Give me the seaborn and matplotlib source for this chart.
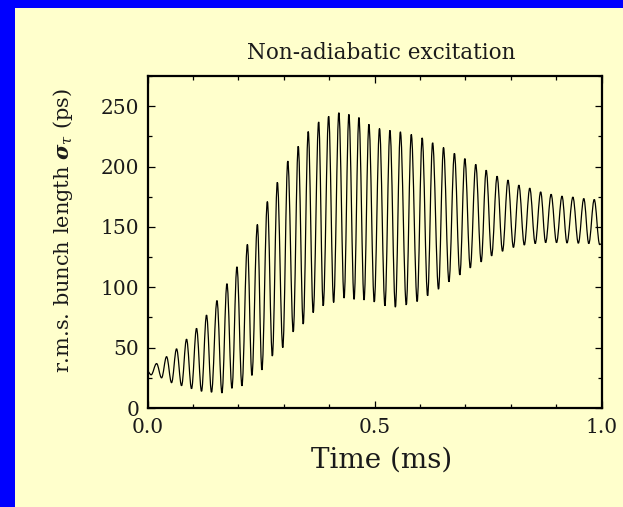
import matplotlib
matplotlib.use("Agg")
import matplotlib.pyplot as plt
import pandas as pd
import seaborn as sns
from matplotlib.patches import Rectangle, PathPatch
from matplotlib.path import Path
from matplotlib.ticker import MultipleLocator

# Bunch-length oscillation after a non-adiabatic RF change:
# turning points (time in ms, r.m.s. bunch length in ps)
start_time, start_length = 0.0, 30.5
end_time, end_length = 1.0, 136.0

peak_times = [0.020, 0.042, 0.064, 0.086, 0.108, 0.130, 0.153, 0.175, 0.197, 0.220,
              0.242, 0.264, 0.286, 0.309, 0.332, 0.354, 0.377, 0.399, 0.4215, 0.4436,
              0.4657, 0.4877, 0.511, 0.534, 0.557, 0.581, 0.605, 0.628, 0.652, 0.676,
              0.699, 0.723, 0.746, 0.770, 0.794, 0.818, 0.842, 0.866, 0.889, 0.913,
              0.937, 0.961, 0.984]
peak_lengths = [36.8, 42.5, 49.0, 57.0, 66.0, 77.0, 89.0, 103.0, 117.0, 135.5,
                152.0, 171.0, 187.0, 204.6, 216.8, 229.0, 237.0, 241.7, 244.6, 243.2,
                240.6, 235.0, 231.5, 230.0, 228.8, 226.6, 223.8, 219.7, 215.8, 211.0,
                206.6, 201.8, 197.0, 192.0, 188.8, 184.6, 182.1, 179.0, 177.0, 175.5,
                174.7, 173.5, 172.7]

trough_times = [0.008, 0.031, 0.053, 0.075, 0.097, 0.119, 0.141, 0.164, 0.186, 0.208,
                0.230, 0.252, 0.275, 0.298, 0.321, 0.343, 0.365, 0.387, 0.410, 0.433,
                0.455, 0.477, 0.4995, 0.523, 0.546, 0.570, 0.594, 0.617, 0.641, 0.664,
                0.688, 0.711, 0.735, 0.758, 0.782, 0.806, 0.830, 0.854, 0.877, 0.901,
                0.924, 0.949, 0.972, 0.996]
trough_lengths = [27.5, 25.0, 21.0, 18.5, 16.0, 13.8, 13.0, 12.4, 16.3, 18.3,
                  27.0, 31.5, 43.0, 50.0, 63.0, 69.5, 79.0, 84.6, 87.4, 91.0,
                  90.0, 89.4, 87.8, 84.6, 83.5, 85.4, 88.2, 92.9, 98.4, 104.5,
                  110.2, 116.0, 121.0, 126.0, 129.8, 133.0, 135.0, 136.2, 137.0, 137.0,
                  136.7, 136.5, 136.2, 135.4]

x_ticks = [0.0, 0.5, 1.0]
x_tick_labels = ["0.0", "0.5", "1.0"]
y_ticks = [0, 50, 100, 150, 200, 250]

BLUE = "#0000ff"
CREAM = "#ffffcc"
INK = "#1a1a1a"

sns.set_theme(style="ticks")
plt.rcParams["font.family"] = ["DejaVu Serif"]
plt.rcParams["mathtext.fontset"] = "dejavuserif"

df = pd.DataFrame({
    "time": [start_time] + peak_times + trough_times + [end_time],
    "length": [start_length] + peak_lengths + trough_lengths + [end_length],
}).sort_values("time")

fig = plt.figure(figsize=(6.23, 5.07), dpi=100)
fig.patch.set_facecolor(BLUE)
panel = Rectangle((15 / 623, 0), 1, (507 - 8) / 507, transform=fig.transFigure,
                  facecolor=CREAM, edgecolor="none", zorder=-10)
fig.add_artist(panel)

ax = fig.add_axes([147.5 / 623, 99 / 507, 454 / 623, 332 / 507])
ax.set_zorder(1)
ax.set_facecolor(CREAM)

sns.lineplot(data=df, x="time", y="length", ax=ax, color="black",
             linewidth=0.9, sort=False, estimator=None)

# Render the turning-point series as a smooth oscillation: each half period
# is a cubic Bezier with flat tangents at the turning points.
line = ax.get_lines()[0]
pts = line.get_xydata()
k = 0.364
verts = [tuple(pts[0])]
codes = [Path.MOVETO]
for (x0, y0), (x1, y1) in zip(pts[:-1], pts[1:]):
    dx = x1 - x0
    verts += [(x0 + k * dx, y0), (x1 - k * dx, y1), (x1, y1)]
    codes += [Path.CURVE4] * 3
curve = PathPatch(Path(verts, codes), facecolor="none", edgecolor=line.get_color(),
                  linewidth=line.get_linewidth(), transform=ax.transData)
line.remove()
ax.add_patch(curve)

ax.set_xlim(0, 1.0)
ax.set_ylim(0, 275)
ax.set_xticks(x_ticks, x_tick_labels)
ax.set_yticks(y_ticks)
ax.xaxis.set_minor_locator(MultipleLocator(0.1))
ax.yaxis.set_minor_locator(MultipleLocator(25))
ax.tick_params(which="both", direction="in", top=True, right=True,
               color="black", width=0.9, labelsize=14.5, labelcolor=INK)
ax.tick_params(which="major", length=5)
ax.tick_params(which="minor", length=3)
ax.tick_params(axis="y", pad=6)
ax.tick_params(axis="x", pad=7)
for spine in ax.spines.values():
    spine.set_linewidth(1.6)
    spine.set_color("black")

ax.set_xlabel("Time (ms)", fontsize=20, color=INK)
ax.xaxis.set_label_coords(0.515, -0.115)
ax.set_ylabel(r"r.m.s. bunch length $\boldsymbol{\sigma}_{\tau}$ (ps)",
              fontsize=15, color=INK)
ax.yaxis.set_label_coords(-0.16, 0.535)
ax.text(0.515, 1.035, "Non-adiabatic excitation", transform=ax.transAxes,
        ha="center", va="bottom", fontsize=15.5, color=INK)

fig.savefig("out.png", dpi=100, facecolor=fig.get_facecolor())
